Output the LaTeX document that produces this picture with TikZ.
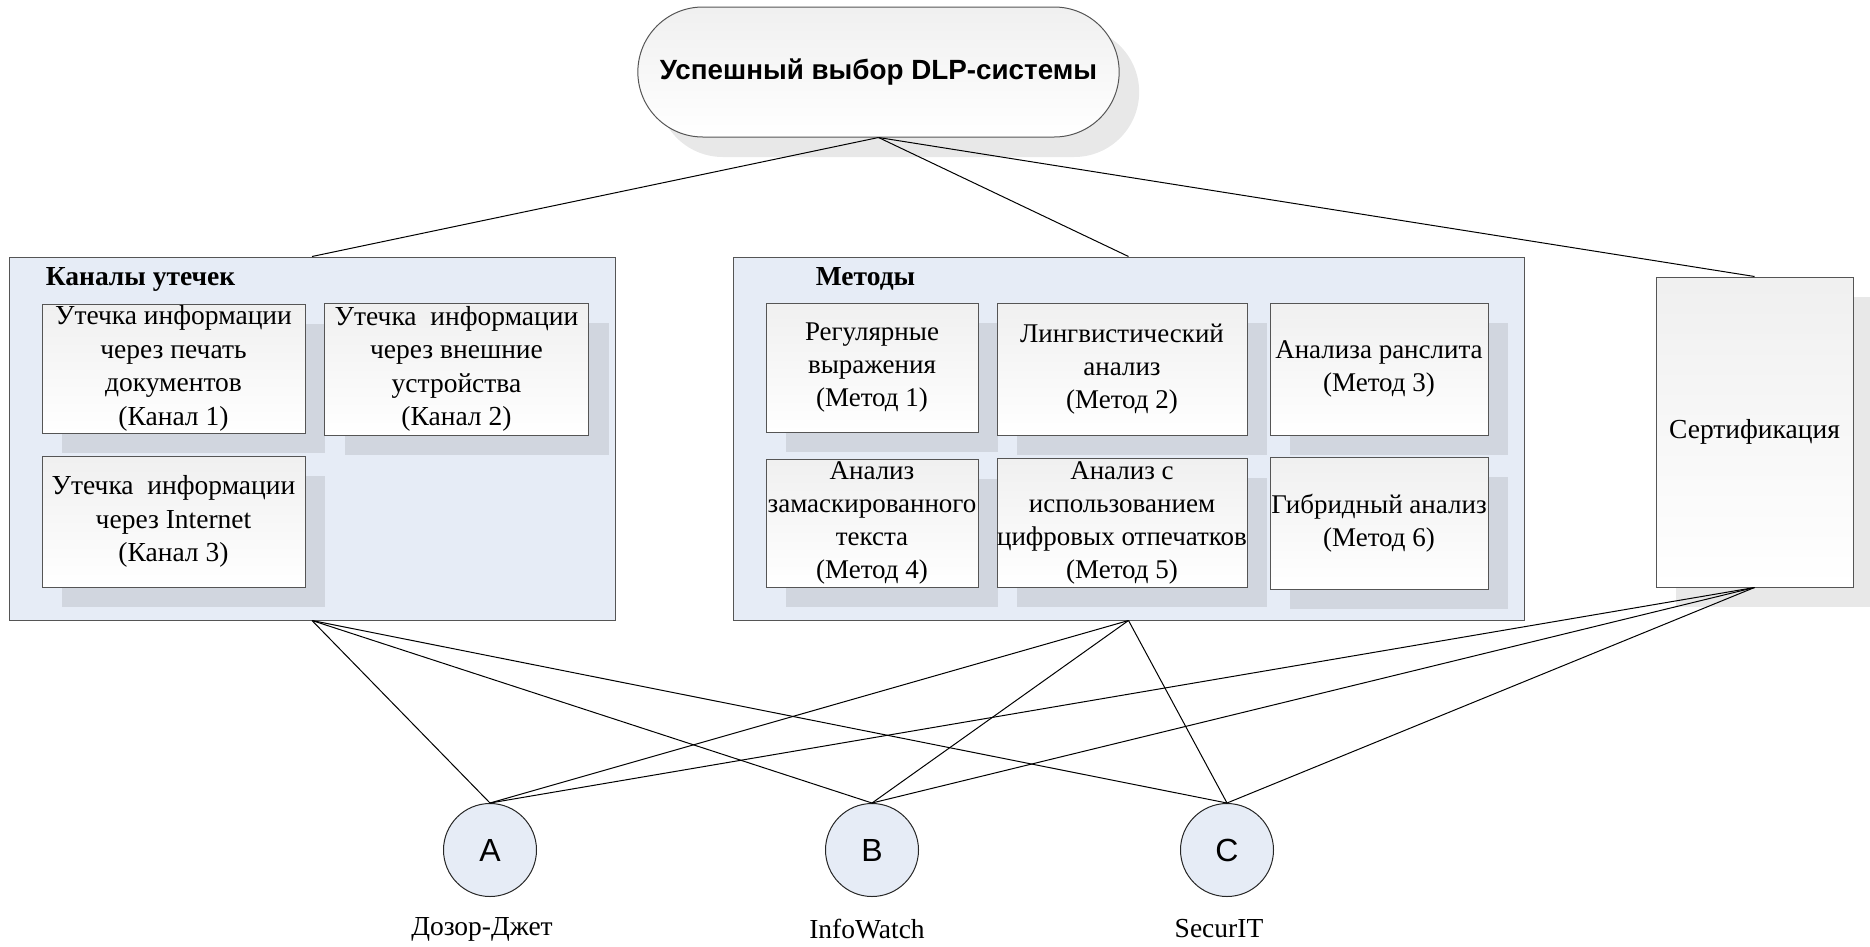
\documentclass[tikz,border=0pt]{standalone}
\usepackage{fontspec}
\setmainfont{Liberation Serif}
\setsansfont{Liberation Sans}
\usepackage{tikz}
\usetikzlibrary{calc,shapes,shadows,positioning,shapes.misc,backgrounds}

\definecolor{paneblue}{RGB}{230,236,246}
\definecolor{edgegray}{RGB}{85,85,85}

\begin{document}
\begin{tikzpicture}[x=1pt,y=-1pt,line width=1pt,
  boxshadow/.style={drop shadow={shadow xshift=20pt,shadow yshift=-20pt,fill=black,opacity=0.09}}]
\tikzstyle{every node}=[font=\fontsize{27.5}{33.5}\selectfont]
\tikzstyle{goal}=[rounded rectangle,draw=edgegray,top color=black!6,bottom color=white,
  minimum width=488pt,minimum height=130pt,boxshadow,font=\sffamily\bfseries\fontsize{27.8}{32}\selectfont]
\tikzstyle{group}=[rectangle,draw=edgegray,fill=paneblue,inner sep=0pt]
\tikzstyle{item}=[rectangle,draw=edgegray,top color=black!6,bottom color=white,
  align=center,inner sep=0pt,boxshadow,font=\fontsize{27}{33}\selectfont]
\tikzstyle{vendor}=[circle,draw=black!85,fill=paneblue,minimum size=93pt,inner sep=0pt,
  font=\sffamily\fontsize{32}{36}\selectfont]
\useasboundingbox (0,0) rectangle (1870,946);

\node[goal] at (878.5,72) (goal){Успешный выбор DLP-системы};

% channels
\node[group,minimum width=606pt,minimum height=363pt] at (312,438.5) (chan){};
\node[anchor=west,font=\bfseries\fontsize{27.5}{33.5}\selectfont] at (42,279) (chantitle){Каналы утечек};
\node[item,minimum width=263pt,minimum height=129pt,font=\fontsize{27.5}{33.5}\selectfont] at (173.5,368.5) (ch1)
  {Утечка информации\\через печать\\документов\\(Канал 1)};
\node[item,minimum width=264pt,minimum height=132pt,font=\fontsize{27.5}{33.5}\selectfont] at (456.5,369) (ch2)
  {Утечка~~информации\\через внешние\\устройства\\(Канал 2)};
\node[item,minimum width=263pt,minimum height=131pt,font=\fontsize{27.5}{33.5}\selectfont,below=22pt of ch1] (ch3)
  {Утечка~~информации\\через Internet\\(Канал 3)};

% methods
\node[group,minimum width=791pt,minimum height=363pt] at (1128.5,438.5) (meth){};
\node[anchor=west,font=\bfseries\fontsize{27.5}{33.5}\selectfont] at (812,279) (methtitle){Методы};
\node[item,minimum width=212pt,minimum height=129pt] at (872,367.5) (m1)
  {Регулярные\\выражения\\(Метод 1)};
\node[item,minimum width=250pt,minimum height=132pt] at (1122,369) (m2)
  {Лингвистический\\анализ\\(Метод 2)};
\node[item,minimum width=218pt,minimum height=132pt] at (1379,369) (m3)
  {Анализа ранслита\\(Метод 3)};
\node[item,minimum width=212pt,minimum height=128pt] at (872,523) (m4)
  {Анализ\\замаскированного\\текста\\(Метод 4)};
\node[item,minimum width=250pt,minimum height=129pt] at (1122,522.5) (m5)
  {Анализ с\\использованием\\цифровых отпечатков\\(Метод 5)};
\node[item,minimum width=218pt,minimum height=132pt] at (1379,523) (m6)
  {Гибридный анализ\\(Метод 6)};

\node[item,minimum width=197pt,minimum height=310pt,font=\fontsize{27.5}{33.5}\selectfont] at (1754.5,432) (cert){Сертификация};

% vendors
\node[vendor] at (490,850) (a){A};
\node[vendor] at (872,850) (b){B};
\node[vendor] at (1227,850) (c){C};
\node at (482,929) (alabel){Дозор-Джет};
\node at (867,929) (blabel){InfoWatch};
\node at (1219,929) (clabel){SecurIT};

 %paths
\path (goal.south) edge (chan.north);
\path (goal.south) edge (meth.north);
\path (goal.south) edge (cert.north);
\path (chan.south) edge (a.north);
\path (chan.south) edge (b.north);
\path (chan.south) edge (c.north);
\path (meth.south) edge (a.north);
\path (meth.south) edge (b.north);
\path (meth.south) edge (c.north);
\path (cert.south) edge (a.north);
\path (cert.south) edge (b.north);
\path (cert.south) edge (c.north);
\end{tikzpicture}
\end{document}
